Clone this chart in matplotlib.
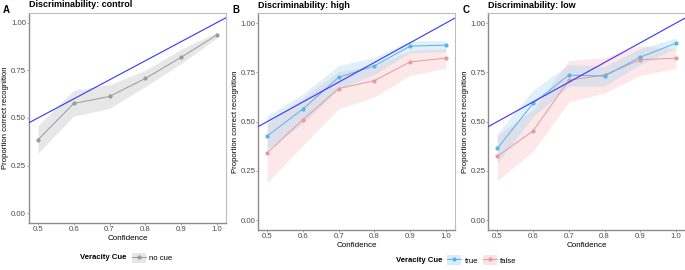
import matplotlib.pyplot as plt
from matplotlib.patches import Patch
from matplotlib.lines import Line2D

plt.rcParams['font.family'] = ['Liberation Sans', 'DejaVu Sans']

confidence = [0.5, 0.6, 0.7, 0.8, 0.9, 1.0]

# panel A: control, no cue
ctrl_mean = [0.386, 0.576, 0.613, 0.707, 0.818, 0.935]
ctrl_lo = [0.315, 0.510, 0.550, 0.665, 0.785, 0.920]
ctrl_hi = [0.460, 0.645, 0.675, 0.750, 0.860, 0.950]

# panel B: high discriminability
high_true = [0.427, 0.564, 0.725, 0.783, 0.883, 0.888]
high_true_lo = [0.360, 0.490, 0.665, 0.740, 0.850, 0.855]
high_true_hi = [0.530, 0.640, 0.785, 0.825, 0.910, 0.910]
high_false = [0.342, 0.510, 0.668, 0.708, 0.803, 0.822]
high_false_lo = [0.190, 0.380, 0.565, 0.625, 0.735, 0.770]
high_false_hi = [0.490, 0.620, 0.755, 0.785, 0.860, 0.870]

# panel C: low discriminability
low_true = [0.364, 0.593, 0.736, 0.731, 0.827, 0.898]
low_true_lo = [0.290, 0.525, 0.680, 0.680, 0.790, 0.870]
low_true_hi = [0.440, 0.660, 0.790, 0.780, 0.870, 0.925]
low_false = [0.324, 0.453, 0.710, 0.737, 0.814, 0.822]
low_false_lo = [0.200, 0.350, 0.600, 0.645, 0.735, 0.770]
low_false_hi = [0.430, 0.560, 0.810, 0.825, 0.885, 0.870]

grey = '#9A9A9A'
c_true = '#56B4E9'
c_false = '#E8999B'
txt = '#4D4D4D'

fig = plt.figure(figsize=(6.85, 2.7), dpi=100)
axA = fig.add_axes([0.0423, 0.174, 0.2876, 0.778])
axB = fig.add_axes([0.377, 0.148, 0.2869, 0.803])
axC = fig.add_axes([0.713, 0.148, 0.2869, 0.803])


def style(ax, title):
    ax.set_xlim(0.475, 1.025)
    ax.set_ylim(-0.05, 1.05)
    ax.set_xticks(confidence)
    ax.set_xticklabels(['0.5', '0.6', '0.7', '0.8', '0.9', '1.0'])
    ax.set_yticks([0, 0.25, 0.5, 0.75, 1.0])
    ax.set_yticklabels(['0.00', '0.25', '0.50', '0.75', '1.00'])
    ax.tick_params(labelsize=5.6, colors='#7F7F7F', labelcolor=txt,
                   length=1.3, width=0.5, pad=0.8)
    for s in ['top', 'right']:
        ax.spines[s].set_color('#BEBEBE')
        ax.spines[s].set_linewidth(0.8)
    for s in ['left', 'bottom']:
        ax.spines[s].set_color('#8C8C8C')
        ax.spines[s].set_linewidth(1.0)
    ax.set_xlabel('Confidence', fontsize=5.8, labelpad=1.5)
    ax.set_ylabel('Proportion correct recognition', fontsize=5.6, va='center')
    ax.yaxis.set_label_coords(-0.118, 0.5)
    ax.set_title(title, fontsize=6.5, fontweight='bold', loc='left', pad=4)
    ax.plot([0.4, 1.1], [0.4, 1.1], color='#3535FF', lw=0.8, zorder=5)


def series(ax, y, lo, hi, color, fill, alpha):
    ax.fill_between(confidence, lo, hi, color=fill, alpha=alpha, lw=0)
    ax.plot(confidence, y, color=color, lw=0.7, marker='o', ms=2, zorder=4)


style(axA, 'Discriminability: control')
series(axA, ctrl_mean, ctrl_lo, ctrl_hi, grey, '#BDBDBD', 0.35)

style(axB, 'Discriminability: high')
series(axB, high_false, high_false_lo, high_false_hi, c_false, '#F4A6A6', 0.25)
series(axB, high_true, high_true_lo, high_true_hi, c_true, '#8FCBF0', 0.28)

style(axC, 'Discriminability: low')
series(axC, low_false, low_false_lo, low_false_hi, c_false, '#F4A6A6', 0.25)
series(axC, low_true, low_true_lo, low_true_hi, c_true, '#8FCBF0', 0.28)

for x, lab in [(0.004, 'A'), (0.339, 'B'), (0.676, 'C')]:
    fig.text(x, 0.962, lab, fontsize=7, fontweight='bold', va='center')


def key(color, fill):
    return (Patch(facecolor=fill, edgecolor='none'),
            Line2D([], [], color=color, lw=0.7, marker='o', ms=2))


fig.text(0.117, 0.045, 'Veracity Cue', fontsize=5.6, fontweight='bold', va='center')
fig.legend([key(grey, '#E6E6E6')], ['no cue'], loc='center left',
           bbox_to_anchor=(0.182, 0.045), frameon=False, fontsize=5.6,
           handlelength=1.8, handleheight=1.6, handletextpad=0.4)

fig.text(0.578, 0.037, 'Veracity Cue', fontsize=5.6, fontweight='bold', va='center')
fig.legend([key(c_true, '#D6ECFA'), key(c_false, '#FBE3E3')], ['true', 'false'],
           loc='center left', bbox_to_anchor=(0.643, 0.037), frameon=False,
           fontsize=5.6, ncol=2, handlelength=1.8, handleheight=1.6,
           handletextpad=0.4, columnspacing=0.6)

fig.savefig('out.png', dpi=100)
